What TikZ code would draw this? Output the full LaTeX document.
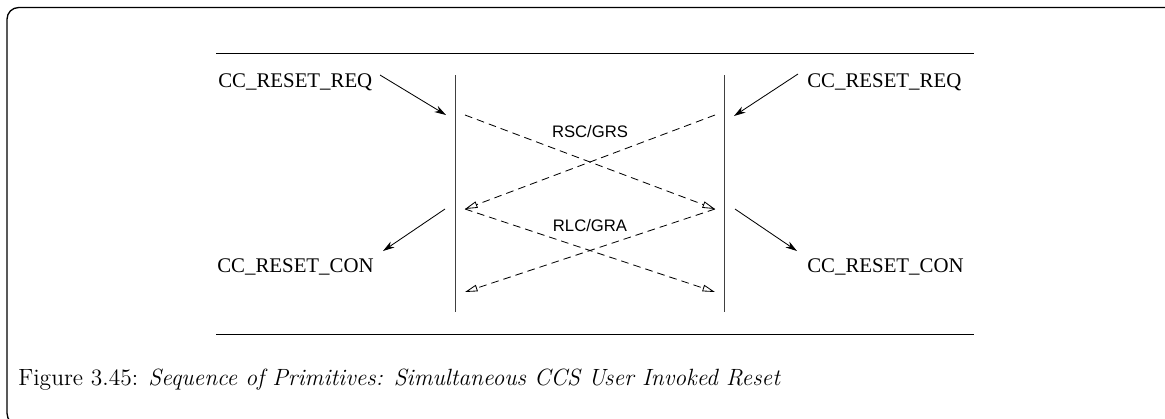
\documentclass[tikz,border=0pt]{standalone}
\usepackage{fontspec}
\usepackage{tikz}
\usetikzlibrary{arrows.meta,calc}
\newfontfamily\timesfont{Liberation Serif}
\newfontfamily\helvfont{Liberation Sans}

\begin{document}
\begin{tikzpicture}[x=0.6pt,y=-0.6pt,
  prim/.style={font=\timesfont\fontsize{12.5}{15}\selectfont, inner sep=0pt, anchor=base west},
  msg/.style={font=\helvfont\fontsize{10}{12}\selectfont, inner sep=0pt},
  call/.style={-{Stealth[length=7pt,width=4.2pt]}, line width=0.5pt},
  pdu/.style={dash pattern=on 4.6pt off 3pt, -{Triangle[open,length=7.5pt,width=4pt]}, line width=0.5pt}]
  \useasboundingbox (0,0) rectangle (1165,418);
  \clip (0,0) rectangle (1165,418);
  \draw[line width=0.8pt, rounded corners=7pt] (7,425) -- (7,7.5) -- (1200,7.5) -- (1200,425) -- cycle;
  \draw[line width=0.6pt] (216,53.5) -- (974,53.5);
  \draw[line width=0.6pt] (216,334) -- (974,334);
  \coordinate (userA) at (455,75);  \coordinate (userA') at (455,312);
  \coordinate (userB) at (724,75);  \coordinate (userB') at (724,312);
  \draw[line width=0.6pt, black!75] (userA) -- (userA');
  \draw[line width=0.6pt, black!75] (userB) -- (userB');
  \node[prim] (reqL) at (218,87) {CC\_RESET\_REQ};
  \node[prim] (reqR) at (807,87) {CC\_RESET\_REQ};
  \node[prim] (conL) at (217,272) {CC\_RESET\_CON};
  \node[prim] (conR) at (807,272) {CC\_RESET\_CON};
  \coordinate (reqLs) at (380,75);  \coordinate (reqLe) at (446,115);
  \coordinate (reqRs) at (798,74);  \coordinate (reqRe) at (734,116);
  \coordinate (conLs) at (445,209); \coordinate (conLe) at (383,251);
  \coordinate (conRs) at (735,209); \coordinate (conRe) at (797,251);
  \draw[call] (reqLs) -- (reqLe);
  \draw[call] (reqRs) -- (reqRe);
  \draw[call] (conLs) -- (conLe);
  \draw[call] (conRs) -- (conRe);
  \coordinate (a1) at (465,115); \coordinate (b1) at (715,115);
  \coordinate (a2) at (465,209); \coordinate (b2) at (715,209);
  \coordinate (a3) at (465,292); \coordinate (b3) at (715,292);
  \draw[pdu] (a1) -- (b2);
  \draw[pdu] (b1) -- (a2);
  \draw[pdu] (a2) -- (b3);
  \draw[pdu] (b2) -- (a3);
  \node[msg] (rsc) at (590,132) {RSC/GRS};
  \node[msg] (rlc) at (590,226) {RLC/GRA};
  \node[inner sep=0pt, anchor=base west, font=\fontsize{14.1}{17}\selectfont] (cap) at (18,385)
    {Figure 3.45: \textit{Sequence of Primitives: Simultaneous CCS User Invoked Reset}};
\end{tikzpicture}
\end{document}
